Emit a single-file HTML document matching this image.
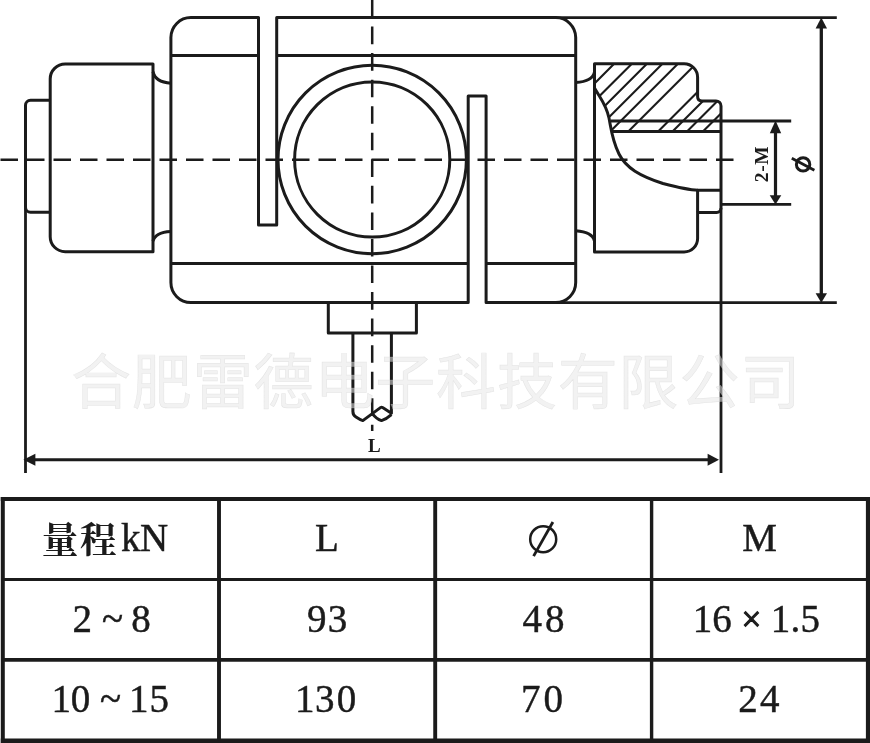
<!DOCTYPE html>
<html lang="zh">
<head>
<meta charset="utf-8">
<title>Load cell dimensions</title>
<style>
html,body{margin:0;padding:0;background:#fff;}
body{width:870px;height:743px;overflow:hidden;position:relative;font-family:"Liberation Serif",serif;}
svg{position:absolute;left:0;top:0;display:block;will-change:transform;}
.o{fill:none;stroke:#1b1b1b;stroke-width:3.0;stroke-linecap:butt;stroke-linejoin:round;}
.t{fill:none;stroke:#1b1b1b;stroke-width:2.8;}
.h{fill:none;stroke:#1b1b1b;stroke-width:2.1;}
.c{fill:none;stroke:#1b1b1b;stroke-width:2.5;}
.a{fill:#1b1b1b;stroke:none;}
.tx{fill:#1b1b1b;font-family:"Liberation Serif",serif;}
.wm{fill:#e6e6e6;fill-opacity:.52;stroke:#c8c8c8;stroke-opacity:.42;stroke-width:8;}
</style>
</head>
<body>
<svg width="870" height="743" viewBox="0 0 870 743">
<defs>
<clipPath id="hc"><path d="M594.5,63.8 H684.1 A13.5,13.5 0 0 1 697.6,77.3 V96.5 Q697.6,100.9 702.0,100.9 H716.0 A5,5 0 0 1 721.0,105.9 V131.6 H611.7 C611,128 610,122 609,118 C606,104 600,98 594.5,88 Z"/></clipPath>
</defs>
<!-- hatching -->
<g class="h" clip-path="url(#hc)">
<path d="M477.9,200 L637.9,40 M495.6,200 L655.6,40 M510.7,200 L670.7,40 M526.2,200 L686.2,40 M541.7,200 L701.7,40 M559.8,200 L719.8,40 M589.6,200 L749.6,40 M604.0,200 L764.0,40 M618.5,200 L778.5,40 M634.4,200 L794.4,40"/>
</g>
<!-- centre lines -->
<g class="c">
<path d="M0.5,159.7 H734" stroke-dasharray="17.5 9"/>
<path d="M372.2,0 V431" stroke-dasharray="17.6 8.95"/>
</g>
<!-- dimension / extension lines -->
<g class="t">
<path d="M555.7,17.6 H836.8 M555.7,302.6 H836.8"/>
<path d="M821.3,22 V298" stroke-width="3.3"/>
<path d="M611,121 H791.2 M721.0,204.3 H791.2"/>
<path d="M775.5,126 V199" stroke-width="3.2"/>
<path d="M25.5,207.2 V473 M721.0,208 V473"/>
<path d="M30,459.8 H714" stroke-width="3.0"/>
</g>
<!-- outlines -->
<g class="o">
<path d="M258.5,225.0 V17.6 H190.9 A20,20 0 0 0 170.9,37.6 V282.6 A20,20 0 0 0 190.9,302.6 H468.2 V95.9 H486.1 V302.6 H555.7 A20,20 0 0 0 575.7,282.6 V37.6 A20,20 0 0 0 555.7,17.6 H276.7 V225.0 Z"/>
<path d="M170.9,55.4 H258.5 M276.7,55.4 H575.7 M170.9,263.6 H468.2 M486.1,263.6 H575.7"/>
<circle cx="372.2" cy="159.5" r="94.2"/>
<circle cx="372.2" cy="159.5" r="77.6"/>
<path d="M153.0,251.7 H65.2 A15,15 0 0 1 50.2,236.7 V79.0 A15,15 0 0 1 65.2,64.0 H153.0 Z"/>
<path d="M153.0,71.6 Q155.0,82 170.9,83.2 M153.0,241.2 Q155.0,232.2 170.9,231.4"/>
<path d="M50.2,100.3 H30.5 A5,5 0 0 0 25.5,105.3 V207.2 A5,5 0 0 0 30.5,212.2 H50.2"/>
<path d="M328.3,302.6 V333 H416.4 V302.6"/>
<path d="M352.9,333 V411.5 Q352.9,415.2 356,417 Q360.5,420 362.8,420.6 L372.3,413.6 L380.8,407.4 Q381.6,406.9 382.6,407.6 L391.4,413.2 V333 M372.3,413.6 Q376.5,419 381.5,420.6 Q386.5,419 391.4,414.6" stroke-linejoin="round"/>
<path d="M594.5,252.0 V63.8 H684.1 A13.5,13.5 0 0 1 697.6,77.3 V96.5 Q697.6,100.9 702.0,100.9 H716.0 A5,5 0 0 1 721.0,105.9 V208 A4.4,4.4 0 0 1 716.6,212.4 H697.6 V238.5 A13.5,13.5 0 0 1 684.1,252.0 Z"/>
<path d="M697.6,212.4 V190.2 H721.0"/>
<path d="M575.7,82.6 Q592.5,81.5 594.5,72 M575.7,230.8 Q592.5,232 594.5,241.2"/>
<path d="M611.7,131.6 H721.0"/>
<path d="M594.5,88 C600,98 606,104 609,118 C611,128 612,140 619,154 C626,168 640,176 663,183.5 C680,188 690,190 698,190.2"/>
</g>
<g class="a">
<path d="M821.3,17.4 L827.0,28.6 L815.6,28.6 Z"/>
<path d="M821.3,302.8 L815.6,293.2 L827.0,293.2 Z"/>
<path d="M775.5,120.6 L781.2,133.2 L769.8,133.2 Z"/>
<path d="M775.5,204.6 L769.7,195.2 L781.3,195.2 Z"/>
<path d="M23.4,459.8 L35.4,453.8 L35.4,465.8 Z"/>
<path d="M719.0,459.8 L707.6,465.8 L707.6,453.8 Z"/>
</g>
<!-- phi symbol on drawing -->
<g class="o" stroke-width="2.8">
<circle cx="803.1" cy="164.4" r="6.7" style="stroke-width:3"/>
<path d="M791.8,158.2 L814.4,170.2" style="stroke-width:2.8"/>
</g>
<g class="tx">
<text transform="translate(767.7,182.2) rotate(-90)" font-size="19.5" font-weight="bold" letter-spacing="0.6">2-M</text>
<text x="368.0" y="451.6" font-size="19" font-weight="bold">L</text>
</g>
<!-- watermark -->
<g class="wm" style="stroke-width:0.48">
<text x="71.0 131.8 192.7 253.6 314.4 375.2 436.1 496.9 557.8 618.6 679.5 740.4" y="403.5" font-size="60" font-family="&quot;Liberation Sans&quot;,&quot;Noto Sans CJK SC&quot;,sans-serif">合肥雷德电子科技有限公司</text>
</g>
<!-- table -->
<g fill="none" stroke="#1b1b1b">
<path d="M0.8,498.9 H870" stroke-width="4"/>
<path d="M0.8,740.9 H870" stroke-width="4.8"/>
<path d="M2.8,497 V743" stroke-width="4"/>
<path d="M868,497 V743" stroke-width="4.2"/>
<path d="M219,498.9 V740.8 M435.2,498.9 V740.8" stroke-width="3.9"/>
<path d="M651.6,498.9 V740.8" stroke-width="3.4"/>
<path d="M2.8,579.4 H868" stroke-width="3"/>
<path d="M2.8,659.9 H868" stroke-width="3.6"/>
<circle cx="543.2" cy="539.2" r="13" stroke-width="2.5"/>
<path d="M533.6,556.1 L552.9,522" stroke-width="2.8"/>
</g>
<g class="tx" stroke="#1b1b1b" stroke-width="0.45">
<text x="120.9 139.9" y="550.8000000000001" font-size="39">kN</text>
<text x="315.1" y="551.2" font-size="39">L</text>
<text x="742.2" y="551.2" font-size="39">M</text>
<text x="72.4 102.0 131.3" y="632.1" font-size="39">2~8</text>
<text x="307.0 327.7" y="632.1" font-size="39">93</text>
<text x="522.5 544.9" y="632.1" font-size="39">48</text>
<text x="692.8 712.3" y="632.1" font-size="39">16</text>
<text x="770.8 790.5 800.6" y="632.1" font-size="39">1.5</text>
<text x="51.4 70.7 100.1 129.1 149.5" y="712.4" font-size="39">10~15</text>
<text x="294.9 315.0 336.8" y="712.4" font-size="39">130</text>
<text x="521.0 543.5" y="712.4" font-size="39">70</text>
<text x="738.3 759.9" y="712.4" font-size="39">24</text>
<text x="741.6" y="631.4" font-size="35.2" stroke-width="1.1">×</text>
</g>
<g class="a">
<text x="41.7 80.0" y="553.2" font-size="36.5" font-weight="bold" font-family="&quot;Liberation Serif&quot;,&quot;Noto Serif CJK SC&quot;,serif">量程</text>
</g>
</svg>
</body>
</html>
